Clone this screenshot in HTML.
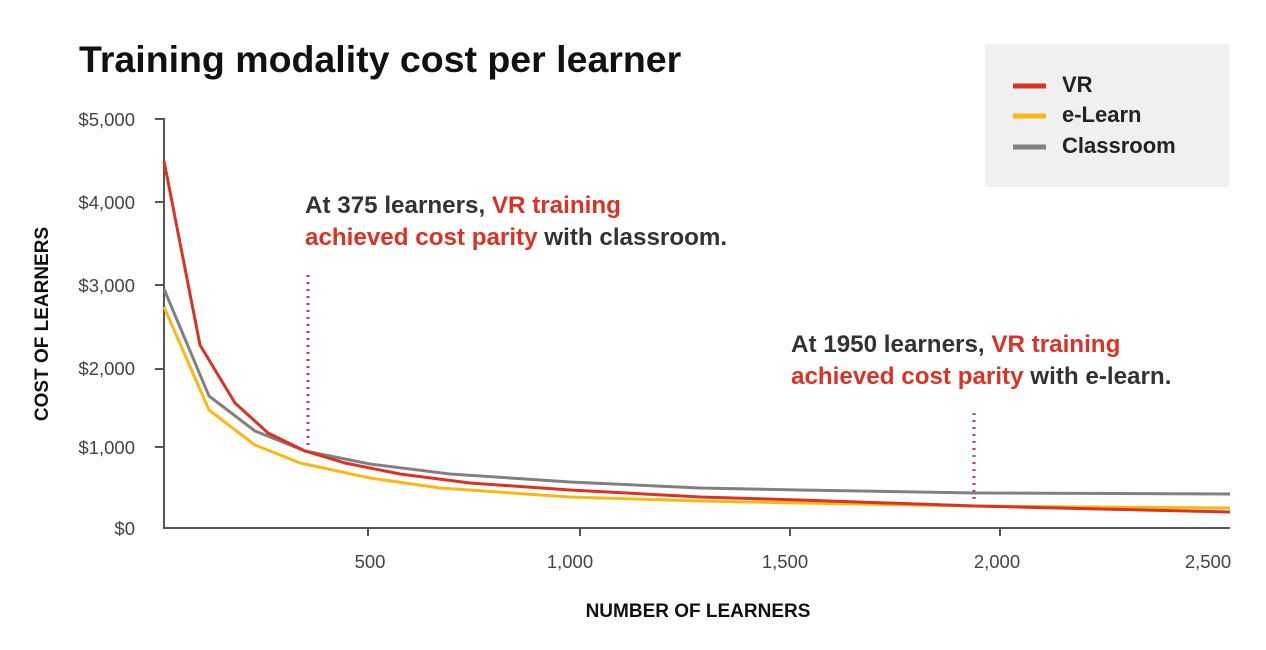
<!DOCTYPE html>
<html><head><style>
body{margin:0;background:#fff;width:1266px;height:645px;overflow:hidden;font-family:"Liberation Sans",Arial,sans-serif}
</style></head><body>
<svg width="1266" height="645" xmlns="http://www.w3.org/2000/svg" font-family="Liberation Sans, Arial, sans-serif">
<text x="79" y="72" font-size="37.5" font-weight="bold" fill="#111">Training modality cost per learner</text>
<rect x="985" y="44" width="244" height="143" fill="#f0f0f0"/>
<line x1="1013" y1="86" x2="1046" y2="86" stroke="#d93325" stroke-width="5"/>
<line x1="1013" y1="116" x2="1046" y2="116" stroke="#fbb814" stroke-width="5"/>
<line x1="1013" y1="147" x2="1046" y2="147" stroke="#808080" stroke-width="5"/>
<g font-size="22" font-weight="bold" fill="#222">
<text x="1062" y="92">VR</text><text x="1062" y="122">e-Learn</text><text x="1062" y="153">Classroom</text></g>
<g stroke="#555" stroke-width="2">
<line x1="164" y1="118" x2="164" y2="529"/><line x1="163" y1="528" x2="1230" y2="528"/>
<line x1="155" y1="119" x2="164" y2="119"/><line x1="155" y1="202" x2="164" y2="202"/>
<line x1="155" y1="285" x2="164" y2="285"/><line x1="155" y1="369" x2="164" y2="369"/>
<line x1="155" y1="447" x2="164" y2="447"/>
<line x1="368" y1="528" x2="368" y2="536"/><line x1="580" y1="528" x2="580" y2="536"/>
<line x1="790" y1="528" x2="790" y2="536"/><line x1="1000" y1="528" x2="1000" y2="536"/>
</g>
<g font-size="18.5" fill="#444" text-anchor="end">
<text x="135" y="126">$5,000</text><text x="135" y="209">$4,000</text><text x="135" y="292">$3,000</text>
<text x="135" y="375">$2,000</text><text x="135" y="454">$1,000</text><text x="135" y="535">$0</text></g>
<g font-size="18.5" fill="#444" text-anchor="middle">
<text x="370" y="568">500</text><text x="570" y="568">1,000</text><text x="785" y="568">1,500</text>
<text x="997" y="568">2,000</text><text x="1208" y="568">2,500</text></g>
<text x="698" y="617" font-size="19" font-weight="bold" fill="#111" text-anchor="middle">NUMBER OF LEARNERS</text>
<text transform="translate(48,324) rotate(-90)" font-size="19" font-weight="bold" fill="#111" text-anchor="middle">COST OF LEARNERS</text>
<g fill="none" stroke-width="3" stroke-linejoin="round">
<polyline stroke="#808080" points="164,289 209,396 255,431 305,451 370,464 450,474 570,482 700,488 800,490 975,493 1230,494"/>
<polyline stroke="#fbb814" points="164,307 209,410 255,445 300,463 370,478 440,488 570,497 700,501 800,503 975,506 1230,508"/>
<polyline stroke="#d93325" points="164,161 200,345 235,403 268,433 305,451 345,463 400,474 470,483 570,490 700,497 800,500 975,506 1100,509 1230,512"/>
</g>
<g stroke="#c8385a" stroke-width="3" stroke-dasharray="2 5">
<line x1="308" y1="275" x2="308" y2="448"/><line x1="974" y1="413" x2="974" y2="503"/></g>
<g font-size="24.2" font-weight="bold" fill="#333">
<text x="305" y="213">At 375 learners, <tspan fill="#d93325">VR training</tspan></text>
<text x="305" y="245"><tspan fill="#d93325">achieved cost parity</tspan> with classroom.</text>
<text x="791" y="352">At 1950 learners, <tspan fill="#d93325">VR training</tspan></text>
<text x="791" y="384"><tspan fill="#d93325">achieved cost parity</tspan> with e-learn.</text>
</g>
</svg>
</body></html>
